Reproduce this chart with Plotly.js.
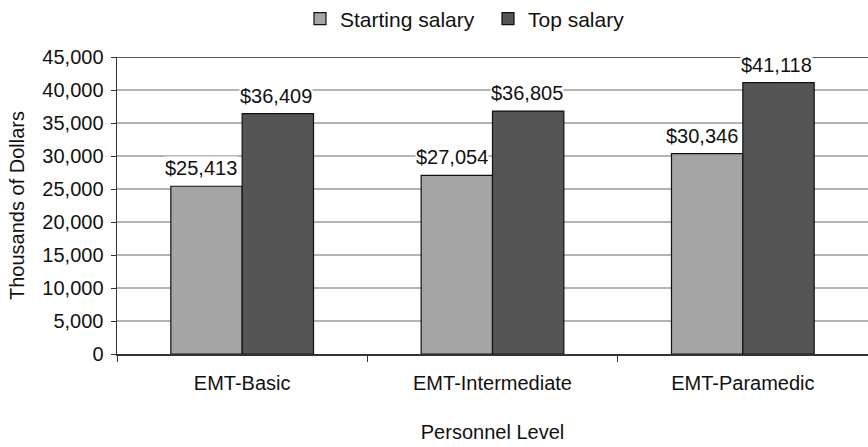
<!DOCTYPE html>
<html>
<head>
<meta charset="utf-8">
<script src="https://cdn.plot.ly/plotly-3.0.1.min.js"></script>
<style>html,body{margin:0;padding:0;background:#fff;}#chart{width:868px;height:447px;}</style>
</head>
<body>
<div id="chart"></div>
<script>
const categories = ["EMT-Basic", "EMT-Intermediate", "EMT-Paramedic"];
const startingSalary = [25413, 27054, 30346];
const topSalary = [36409, 36805, 41118];
const yTickVals = [0, 5000, 10000, 15000, 20000, 25000, 30000, 35000, 40000, 45000];
const yTickText = ["0", "5,000", "10,000", "15,000", "20,000", "25,000", "30,000", "35,000", "40,000", "45,000"];

const font = {family: "Liberation Sans, Arial, sans-serif", size: 20, color: "#111"};

const traces = [
  {
    type: "bar", name: "Starting salary", x: categories, y: startingSalary,
    marker: {color: "#a5a5a5", line: {color: "#111", width: 1.2}},
    hoverinfo: "none"
  },
  {
    type: "bar", name: "Top salary", x: categories, y: topSalary,
    marker: {color: "#555555", line: {color: "#111", width: 1.2}},
    hoverinfo: "none"
  }
];

const fmt = v => "$" + v.toLocaleString("en-US");
const annotations = [];
categories.forEach((c, i) => {
  annotations.push({x: c, y: startingSalary[i], xref: "x", yref: "y", text: fmt(startingSalary[i]),
    showarrow: false, xshift: -41, yanchor: "bottom", yshift: 6, font: font, bgcolor: "#ffffff", borderpad: 0});
  annotations.push({x: c, y: topSalary[i], xref: "x", yref: "y", text: fmt(topSalary[i]),
    showarrow: false, xshift: 34, yanchor: "bottom", yshift: 6, font: font, bgcolor: "#ffffff", borderpad: 0});
});

const layout = {
  width: 868, height: 447,
  margin: {l: 117, r: 0, t: 57, b: 93},
  paper_bgcolor: "#fff", plot_bgcolor: "#fff",
  font: font,
  barmode: "group", bargap: 0.43, bargroupgap: 0,
  showlegend: true,
  legend: {orientation: "h", xref: "container", x: 300 / 868, xanchor: "left", yref: "container", y: 1 - 19 / 447, yanchor: "middle",
           font: Object.assign({}, font, {size: 21}), itemwidth: 30, entrywidth: 143, traceorder: "normal", bgcolor: "rgba(0,0,0,0)"},
  xaxis: {
    type: "category", tickson: "boundaries", ticks: "outside", ticklen: 6, tickcolor: "#333",
    showline: true, linecolor: "#333", linewidth: 1.5, showgrid: false,
    tickfont: font, automargin: false, ticklabelstandoff: 10,
    title: {text: "Personnel Level", font: font, standoff: 32}
  },
  yaxis: {
    range: [0, 45000], tickvals: yTickVals, ticktext: yTickText,
    ticks: "outside", ticklen: 5, tickcolor: "#333",
    showline: true, linecolor: "#333", linewidth: 1.5,
    showgrid: true, gridcolor: "#b4b4b4", gridwidth: 1.5, zeroline: false,
    tickfont: font, automargin: false, ticklabelstandoff: 3,
    title: {text: "Thousands of Dollars", font: font, standoff: 12}
  },
  shapes: [
    {type: "line", xref: "paper", yref: "y", x0: 0, x1: 1, y0: 45000, y1: 45000, line: {color: "#222", width: 1.5}}
  ],
  annotations: annotations
};

Plotly.newPlot("chart", traces, layout, {displayModeBar: false, staticPlot: true});
</script>
</body>
</html>
